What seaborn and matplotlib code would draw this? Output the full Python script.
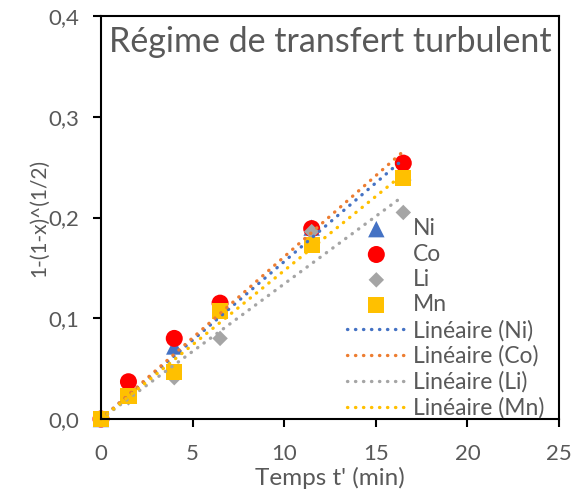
import numpy as np
import pandas as pd
import seaborn as sns
import matplotlib.pyplot as plt

# Données
temps = [0, 1.5, 4, 6.5, 11.5, 16.5]
ni = [0, 0.028, 0.072, 0.109, 0.190, 0.245]
co = [0, 0.037, 0.080, 0.115, 0.189, 0.254]
li = [0, 0.021, 0.041, 0.080, 0.186, 0.205]
mn = [0, 0.023, 0.047, 0.107, 0.173, 0.239]

x_ticks = [0, 5, 10, 15, 20, 25]
y_ticks = [0.0, 0.1, 0.2, 0.3, 0.4]
y_labels = ["0,0", "0,1", "0,2", "0,3", "0,4"]

series = [
    ("Ni", ni, "^", "#4472C4", "#4472C4", 140),
    ("Co", co, "o", "#FF0000", "#ED7D31", 150),
    ("Li", li, "D", "#A5A5A5", "#A5A5A5", 62),
    ("Mn", mn, "s", "#FFC000", "#FFC000", 135),
]

sns.set_style("white")
plt.rcParams["font.family"] = ["Lato", "DejaVu Sans"]
gris = "#595959"

fig = plt.figure(figsize=(5.79, 4.90), dpi=100)
ax = fig.add_axes([0.1744, 0.1449, 0.7911, 0.8224])

# Points
for nom, vals, mk, coul, _, taille in series:
    df = pd.DataFrame({"t": temps, "y": vals})
    sns.scatterplot(data=df, x="t", y="y", marker=mk, color=coul, s=taille,
                    edgecolor="none", ax=ax, label=nom, zorder=3, clip_on=False)

# Courbes de tendance linéaires (ordonnée à l'origine = 0)
t = np.array(temps)
for nom, vals, _, _, coul_l, _ in series:
    y = np.array(vals)
    pente = (t * y).sum() / (t * t).sum()
    t_fit = np.array([t.min(), t.max()])
    df_fit = pd.DataFrame({"t": t_fit, "y": pente * t_fit})
    sns.lineplot(data=df_fit, x="t", y="y", ax=ax, color=coul_l, lw=2.4,
                 linestyle=(0, (0.1, 2.3)), dash_capstyle="round",
                 label=f"Linéaire ({nom})", zorder=4)

ax.set_xlim(0, 25)
ax.set_ylim(0, 0.4)
ax.set_xticks(x_ticks)
ax.set_xticklabels([str(v) for v in x_ticks])
ax.set_yticks(y_ticks)
ax.set_yticklabels(y_labels)
ax.tick_params(axis="both", direction="out", length=6, width=1.5, color="black",
               labelsize=16, labelcolor=gris, left=True, bottom=True)
ax.tick_params(axis="y", pad=10)
ax.tick_params(axis="x", pad=12)
for sp in ax.spines.values():
    sp.set_visible(True)
    sp.set_color("black")
    sp.set_linewidth(1.5)
    sp.set_zorder(5)

ax.set_xlabel("Temps t' (min)", fontsize=17.5, color=gris, labelpad=2)
ax.set_ylabel("1-(1-x)^(1/2)", fontsize=15, color=gris, labelpad=-1)
ax.text(0.5, 0.935, "Régime de transfert turbulent", transform=ax.transAxes,
        ha="center", va="center", fontsize=24.5, color=gris)

leg = ax.legend(loc="lower right", bbox_to_anchor=(0.988, -0.022), frameon=False,
                fontsize=16.5, labelcolor=gris, handlelength=2.6, handletextpad=0.3,
                labelspacing=0.19, borderaxespad=0.0, markerscale=1.0)

fig.savefig("out.png", dpi=100)
